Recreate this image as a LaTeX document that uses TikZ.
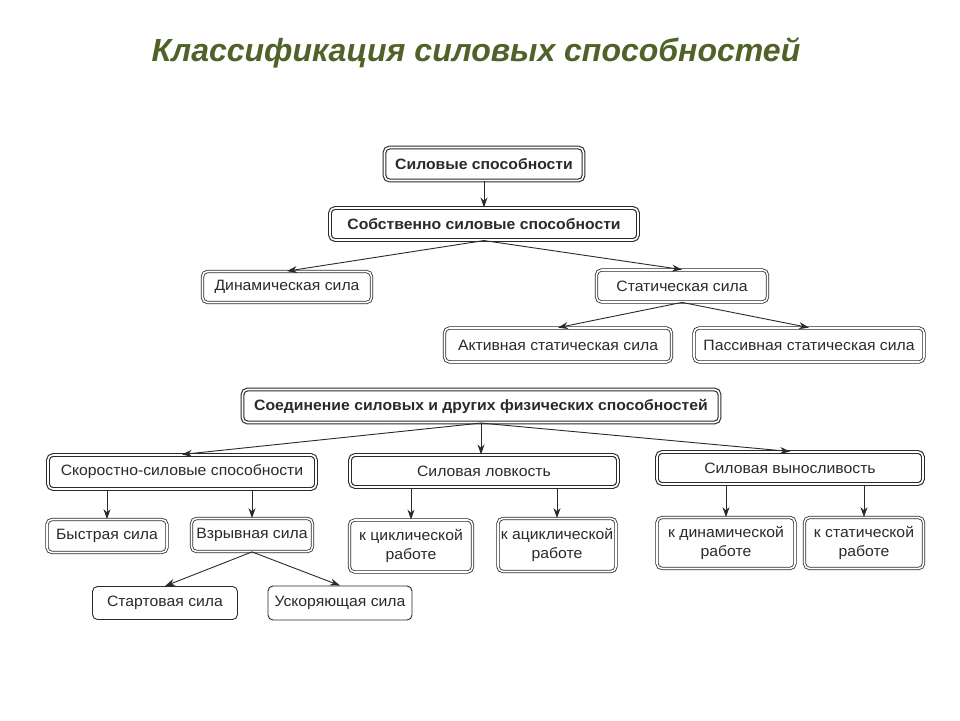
\documentclass[tikz,border=0pt]{standalone}
\usepackage{fontspec}
\setmainfont{Liberation Sans}[FakeStretch=1.05]
\newfontfamily\titlefont{Liberation Sans}
\usetikzlibrary{arrows.meta}
\definecolor{titlegreen}{HTML}{4F6228}
\definecolor{ink}{HTML}{2A2A2A}
\begin{document}
\begin{tikzpicture}[x=1pt,y=-1pt,
 box/.style={draw=ink, double=white, double distance=1.6pt, line width=0.8pt, rounded corners=5pt,
   font=\fontsize{15}{19}\selectfont, inner sep=1.5pt, align=center, text=ink},
 boldbox/.style={box, font=\bfseries\fontsize{15}{19}\selectfont, line width=1.1pt},
 plainbox/.style={box, double=none, line width=0.9pt},
 arr/.style={draw=ink, line width=0.9pt, -{Stealth[length=10pt,width=7pt]}},
]
\useasboundingbox (0,0) rectangle (960,720);
\fill[white] (0,0) rectangle (960,720);

\node[font=\titlefont\bfseries\itshape\fontsize{32}{38}\selectfont, text=titlegreen] (title) at (476,53) {Классификация силовых способностей};

\node[boldbox, minimum width=199, minimum height=33] (n1) at (484,164) {Силовые способности};
\node[boldbox, minimum width=308, minimum height=32] (n2) at (484,224) {Собственно силовые способности};
\node[box, minimum width=169, minimum height=31] (n3) at (287,287) {Динамическая сила};
\node[box, minimum width=171, minimum height=32] (n4) at (682,286) {Статическая сила};
\node[box, minimum width=227, minimum height=34] (n5) at (558,345) {Активная статическая сила};
\node[box, minimum width=230, minimum height=34] (n6) at (809,345) {Пассивная статическая сила};
\node[boldbox, minimum width=477, minimum height=33] (n7) at (481,406) {Соединение силовых и других физических способностей};
\node[box, line width=1.1pt, minimum width=268, minimum height=34] (n8) at (182,472) {Скоростно-силовые способности};
\node[box, line width=1.1pt, minimum width=268, minimum height=32] (n9) at (484,471) {Силовая ловкость};
\node[box, line width=1.1pt, minimum width=266, minimum height=32] (n10) at (790,468) {Силовая выносливость};
\node[box, minimum width=120, minimum height=33] (n11) at (107,536) {Быстрая сила};
\node[box, minimum width=121, minimum height=33] (n12) at (252,535) {Взрывная сила};
\node[box, minimum width=123, minimum height=52] (n13) at (411,546) {к циклической\\работе};
\node[box, minimum width=118, minimum height=53] (n14) at (557,545) {к ациклической\\работе};
\node[box, minimum width=138, minimum height=51] (n15) at (726,543) {к динамической\\работе};
\node[box, minimum width=119, minimum height=51] (n16) at (864,543) {к статической\\работе};
\node[plainbox, minimum width=145, minimum height=33] (n17) at (165,603) {Стартовая сила};
\node[plainbox, minimum width=144, minimum height=34] (n18) at (340,603) {Ускоряющая сила};

\draw[arr] (n1.south) -- (n2.north);
\draw[arr] (n2.south) -- (n3.north);
\draw[arr] (n2.south) -- (n4.north);
\draw[arr] (n4.south) -- (n5.north);
\draw[arr] (n4.south) -- (n6.north);
\draw[arr] (n7.south) -- (n8.north);
\draw[arr] (n7.south) -- (n7.south |- n9.north);
\draw[arr] (n7.south) -- (n10.north);
\draw[arr] (n8.south -| n11.north) -- (n11.north);
\draw[arr] (n8.south -| n12.north) -- (n12.north);
\draw[arr] (n9.south -| n13.north) -- (n13.north);
\draw[arr] (n9.south -| n14.north) -- (n14.north);
\draw[arr] (n10.south -| n15.north) -- (n15.north);
\draw[arr] (n10.south -| n16.north) -- (n16.north);
\draw[arr] (n12.south) -- (n17.north);
\draw[arr] (n12.south) -- (n18.north);
\end{tikzpicture}
\end{document}
